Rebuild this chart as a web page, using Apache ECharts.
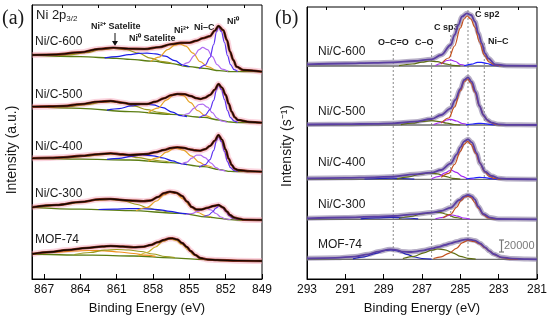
<!DOCTYPE html>
<html>
<head>
<meta charset="utf-8">
<script src="https://cdn.jsdelivr.net/npm/echarts@6/dist/echarts.min.js"></script>
<style>html,body{margin:0;padding:0;background:#fff}#c{width:550px;height:321px}</style>
</head>
<body>
<div id="c"></div>
<script>
// ---------- axis ticks ----------
const ticksA = [849, 852, 855, 858, 861, 864, 867];
const minorTicksA = [850.5, 853.5, 856.5, 859.5, 862.5, 865.5];
const ticksB = [281, 283, 285, 287, 289, 291, 293];
const minorTicksB = [282, 284, 286, 288, 290, 292];

// ---------- panel (a): Ni 2p3/2 ----------
const labelsA = ['Ni/C-600', 'Ni/C-500', 'Ni/C-400', 'Ni/C-300', 'MOF-74'];
const offsetsA = [207.3, 156.3, 107.3, 59, 18];

const a600_env = [[868,16.7],[866,17.2],[864,19.4],[862.5,22.7],[861.3,24],[860,23],[858.7,22.7],[857.5,24.5],[856.5,27.5],[855.7,28.8],[855,29],[854.4,31],[853.9,33.4],[853.3,35.5],[852.9,41],[852.6,45.7],[852.2,41.5],[851.9,31.7],[851.64,20],[851.37,11.7],[851.1,5],[850.55,1.7],[849,0]];
const a600_bg = [[868,16.7],[864,15],[861,13.4],[859.9,12.4],[858,10.5],[856.6,8.4],[855,5],[853.8,3.4],[852.5,1],[851.6,0],[849,0]];
const a600_ni2sat = [[866.5,16.2],[865,16.8],[863.5,19],[862.3,22],[861.2,23.2],[860.2,22],[859.2,18.5],[858.2,13.5],[857.2,10],[856.4,8.2]];
const a600_ni0sat = [[862,13.8],[861,15],[860,17],[859.2,18.3],[858.5,18.6],[857.8,17.8],[857,15.5],[856.2,11],[855.5,6.5],[855,5]];
const a600_ni2 = [[858.2,10.3],[857.5,14.5],[856.8,22],[856.2,26.5],[855.8,27.7],[855.3,25.5],[854.7,18.5],[854.1,10],[853.5,5],[853,2.5]];
const a600_nic = [[855.6,6],[855.1,9],[854.6,16],[854.2,22],[853.9,24.4],[853.5,22],[853.1,15],[852.7,7],[852.3,2.5],[851.8,0.5]];
const a600_ni0 = [[854.2,3],[853.7,6.5],[853.3,14],[853,27],[852.75,40],[852.6,44.5],[852.35,40],[852.1,29],[851.85,16],[851.6,7],[851.3,2],[851,0.3]];

const a500_env = [[868,16],[866.5,16.3],[865.4,16.7],[864,18.5],[862.5,21],[861.5,21.7],[860.5,20],[859.9,18.7],[858.5,18.7],[857.8,21],[857.1,24.4],[856.5,27.5],[856,28.7],[855.4,28.5],[854.9,26.7],[854.4,24.5],[854.1,23.7],[853.7,25],[853.3,27.7],[852.9,33],[852.6,38.7],[852.3,35],[852,27.7],[851.75,19],[851.5,11],[851.25,5.5],[851,2.7],[850,0.7],[849,0]];
const a500_bg = [[868,16],[864,14.4],[859.9,11],[856.5,8.4],[853.8,5.4],[852.5,2.5],[851.6,0.7],[851,0],[849,0]];
const a500_ni2sat = [[866.5,15.5],[865,16],[863.5,18],[862.3,20.3],[861.5,21],[860.5,19.5],[859.5,16.5],[858.5,13],[857.5,10.3],[856.6,8.6]];
const a500_ni0sat = [[861.8,12.5],[860.8,14],[859.8,16.8],[858.8,18.6],[858,17.8],[857.2,15],[856.4,10.5],[855.7,7],[855.2,6]];
const a500_ni2 = [[858.4,10],[857.6,14.5],[856.9,22.5],[856.3,27.5],[856,28.5],[855.5,27],[854.9,20],[854.3,12],[853.7,7],[853.2,5]];
const a500_nic = [[855.6,6.5],[855.1,9],[854.6,14.5],[854.2,18.2],[853.9,18.5],[853.5,15.5],[853.1,10],[852.7,4.5],[852.3,1.5],[851.9,0.5]];
const a500_ni0 = [[854.2,5],[853.7,7.5],[853.3,13],[853,22],[852.75,33],[852.6,37.5],[852.35,33],[852.1,23],[851.85,12],[851.6,5],[851.3,1.5],[851,0.2]];

const a400_env = [[868,13.4],[866.5,13.8],[865.4,14.4],[864,15.8],[862.5,17.5],[861.5,18.4],[860.5,17.3],[859.9,16.7],[858.5,17.7],[857.8,19.5],[857.1,21.7],[856.5,23.7],[856,24.4],[855.4,23.7],[855,22.4],[854.5,21.3],[854.1,21],[853.7,22.5],[853.3,25.7],[852.9,31],[852.6,36.7],[852.3,32],[852,22],[851.75,13],[851.5,6.7],[851.25,3],[851,1.7],[850,0.5],[849,0]];
const a400_bg = [[868,13.4],[864,12.6],[859.9,11.7],[856.5,9],[853.8,5],[852.5,2],[851.6,0.3],[851,0],[849,0]];
const a400_ni2sat = [[866.5,13.4],[865,14],[863.5,15.5],[862.5,16.8],[861.3,17.7],[860.2,16.3],[859.2,14],[858.2,12],[857.3,10.7],[856.6,9.3]];
const a400_ni0sat = [[861.8,12.3],[860.8,13.4],[859.8,15.3],[858.9,16.7],[858,15.8],[857.2,13.8],[856.4,10.8],[855.7,8],[855.2,7]];
const a400_ni2 = [[858.4,10.5],[857.6,13.8],[856.9,19.5],[856.3,23],[856.1,23.4],[855.5,21.5],[854.8,15.5],[854.2,9.5],[853.6,6],[853.1,4.5]];
const a400_nic = [[855.7,7.5],[855.2,9.5],[854.8,13.5],[854.4,16.5],[854.1,16.5],[853.7,14],[853.2,8.5],[852.8,4],[852.4,1.5],[852,0.4]];
const a400_ni0 = [[854.2,4.5],[853.7,7],[853.3,12],[853,21],[852.75,31],[852.6,35],[852.35,30],[852.1,20],[851.85,10],[851.6,4],[851.3,1],[851,0.2]];

const a300_env = [[868,12.7],[866,15],[864,18],[862.4,20.7],[861.5,21],[860,19.5],[858.8,18.8],[858.2,19.5],[857.6,23],[857.1,26.8],[856.6,28.3],[856.1,27.3],[855.6,24],[855.2,18.5],[854.8,13],[854.4,10.5],[854,10.5],[853.5,12.2],[853,14],[852.6,15],[852.2,12.5],[851.9,8.5],[851.64,5],[851.3,2.5],[851,1.5],[850.5,0.3],[849,0]];
const a300_bg = [[868,12.7],[864,10.8],[859.9,9.3],[855.8,6.7],[853.5,3],[852.5,1.7],[851.6,0.3],[851,0],[849,0]];
const a300_ni2sat = [[867,13],[865.5,15.3],[864,17.5],[862.8,19.8],[861.6,20.5],[860.4,19],[859.3,15.5],[858.4,12],[857.5,9.5],[856.8,8]];
const a300_ni0sat = [[862.5,10.5],[861.2,10.9],[860,11.3],[858.8,11.3],[857.6,10.4],[856.6,8.7],[855.6,6.7],[855,6]];
const a300_ni2 = [[859.4,9.3],[858.5,12.5],[857.7,19],[857.1,25],[856.6,27.5],[856.1,26.5],[855.5,21],[854.9,13.5],[854.3,7.5],[853.7,4.5],[853.2,3]];
const a300_nic = [[855.3,5.5],[854.8,6.5],[854.3,8.7],[853.9,11],[853.6,11.5],[853.2,10],[852.8,6.5],[852.4,3],[852,1],[851.6,0.3]];
const a300_ni0 = [[853.8,3.5],[853.4,5],[853.1,8],[852.8,12],[852.55,14],[852.3,12.5],[852,8.5],[851.7,4],[851.4,1.5],[851,0.2]];

const aMOF_env = [[868,7],[866.5,9],[865.1,11],[863.5,13],[862.2,14.5],[861.5,15],[860.5,14.5],[859.6,13.7],[858.8,14.3],[858.2,16],[857.6,18.8],[857.1,21],[856.7,22.5],[856.4,22.7],[856,21.5],[855.6,18],[855.2,14],[854.9,10],[854.5,6],[854.1,3],[853.5,1.5],[852.7,1],[851,0.3],[849,0]];
const aMOF_bg = [[868,7],[863,5.8],[859.6,5],[856.5,3.2],[854.1,1.7],[852,0.3],[849,0]];
const aMOF_sat1 = [[867.5,7.5],[866,8.8],[864.5,10],[863.3,10.5],[862,10.2],[860.8,9],[859.6,7.5],[858.6,5.8],[857.8,4.6]];
const aMOF_sat2 = [[864.5,6.5],[863.2,8.5],[862,10.8],[861,11.5],[860,11],[859,9.5],[858,7],[857,4.5],[856.2,3.3]];
const aMOF_main = [[859.2,5],[858.5,8.5],[857.8,14],[857.2,19.5],[856.6,22],[856.1,20.5],[855.6,16.5],[855.1,11],[854.6,5.5],[854,2.5],[853.3,1]];

// ---------- panel (b): C 1s ----------
const labelsB = ['Ni/C-600', 'Ni/C-500', 'Ni/C-400', 'Ni/C-300', 'MOF-74'];
const offsetsB = [213, 154, 99.7, 59.7, 19.7];

const b600_env = [[293,1.7],[291,2.5],[289.5,3.2],[288.5,3.7],[287.4,5],[286.5,6.7],[286,11],[285.5,21],[285.3,31],[285.1,41],[284.92,49.3],[284.65,52.7],[284.44,51],[284.23,44.3],[284.06,32.7],[283.88,22.7],[283.71,12.7],[283.54,7.7],[283.19,1.7],[282.6,0.3],[281,0]];
const b600_csp2 = [[286,2],[285.6,8],[285.3,20],[285,38],[284.8,47],[284.65,50],[284.45,47],[284.25,39],[284,24],[283.75,11],[283.5,4],[283.2,1],[282.9,0]];
const b600_co = [[288.2,0.3],[287.5,2],[287,3.8],[286.6,5],[286.2,4.3],[285.8,2.2],[285.4,0.7],[285,0]];
const b600_csp3 = [[286.3,0.5],[286,2.5],[285.7,5.5],[285.5,6],[285.25,4.5],[285,1.5],[284.7,0.2]];
const b600_nic = [[284.8,0.2],[284.4,1.8],[284.1,3.6],[283.9,3.7],[283.6,2.5],[283.3,0.8],[283,0.1]];

const b500_env = [[293,0.5],[291,0.8],[289.5,1.2],[288.5,1.7],[287.4,3.3],[286.5,6],[286,10],[285.5,16.7],[285.27,25],[285,36],[284.8,45],[284.6,47.7],[284.4,43],[284.2,33],[284,19],[283.8,10],[283.6,5],[283.36,2.3],[283,0.7],[282.5,0.2],[281,0]];
const b500_csp2 = [[286,2],[285.6,7],[285.3,18],[285,34],[284.8,43],[284.62,46],[284.45,42],[284.25,33],[284,19],[283.75,8.5],[283.5,3],[283.2,0.8],[282.9,0]];
const b500_co = [[288.1,0.3],[287.5,1.8],[287,3.6],[286.5,4.3],[286.1,3.5],[285.7,1.8],[285.3,0.5],[285,0]];
const b500_csp3 = [[286.4,0.5],[286,2.5],[285.7,5],[285.5,5.7],[285.2,4],[284.9,1.5],[284.6,0.2]];
const b500_nic = [[284.7,0.2],[284.35,1],[284.05,1.7],[283.8,1.5],[283.5,0.6],[283.2,0]];

const b400_env = [[293,1],[291,1.5],[289.5,2],[288.5,2.7],[287.4,5],[286.5,6.7],[286,9.3],[285.5,16],[285.18,25],[285,32],[284.8,38],[284.6,40],[284.4,37],[284.14,26],[283.97,16],[283.71,7.7],[283.36,3.3],[283,1],[282.5,0.3],[281,0]];
const b400_csp2 = [[286,2],[285.6,6],[285.3,15],[285,28],[284.8,35],[284.62,38],[284.45,35],[284.2,26],[284,17],[283.75,8],[283.5,3],[283.2,0.8],[282.9,0]];
const b400_co = [[288.3,0.5],[287.7,2.5],[287.1,5],[286.65,6.5],[286.2,5.5],[285.8,3],[285.4,1],[285,0.2]];
const b400_csp3 = [[286.5,0.5],[286.1,3],[285.8,6.5],[285.5,9.3],[285.2,7],[284.9,3],[284.6,0.8],[284.3,0]];
const b400_nic = [[284.7,0.3],[284.3,1.3],[284,2],[283.7,1.6],[283.4,0.6],[283.1,0]];
const b400_ococ = [[290,0.3],[289.2,0.8],[288.6,1.2],[288,0.8],[287.4,0.2]];

const b300_env = [[293,1],[291,1.8],[289.5,2.7],[288.5,3.3],[287.4,5],[286.5,6.7],[286,8.3],[285.5,11.7],[285.05,19.3],[284.8,23],[284.6,24.3],[284.4,23],[284.25,20],[284.06,12.7],[283.8,5.3],[283.45,1.7],[283,0.3],[281,0]];
const b300_csp2 = [[285.9,1.5],[285.5,5],[285.2,12],[284.95,19],[284.75,22.5],[284.6,23],[284.45,22],[284.25,17],[284.05,11],[283.8,4.5],[283.55,1.5],[283.2,0.2]];
const b300_co = [[288.2,0.8],[287.6,2.8],[287,5.3],[286.4,6.8],[286.1,7],[285.7,5],[285.3,2],[284.9,0.5]];
const b300_csp3 = [[286.3,0.5],[285.9,2],[285.6,3.8],[285.4,4.3],[285.15,3.2],[284.85,1.3],[284.5,0.2]];
const b300_ococ = [[290.2,0.5],[289.4,1.5],[288.6,2],[287.9,1.3],[287.2,0.4]];

const bMOF_env = [[293,1],[291.5,1.5],[290.5,2.7],[289.8,5],[289.27,7.7],[288.66,10],[288.3,9.2],[288.05,7.7],[287.6,7.3],[287.36,7.7],[286.9,9],[286.5,10.7],[286.1,12.5],[285.8,14.3],[285.5,16],[285.18,17.7],[284.9,19.2],[284.6,20],[284.23,18.7],[283.97,16],[283.71,12],[283.5,8.5],[283.27,5.3],[282.84,2],[282.3,0.7],[281.5,0.2],[281,0]];
const bMOF_ococ = [[290.6,0.5],[290,2.5],[289.4,6],[288.9,9],[288.6,9.5],[288.2,8],[287.8,5],[287.4,2.3],[287,0.8],[286.5,0.2]];
const bMOF_co = [[288,0.8],[287.4,3],[286.9,6.5],[286.5,9.2],[286.2,10.3],[285.8,9.5],[285.4,6.5],[285,3],[284.6,1],[284.2,0.2]];
const bMOF_csp2 = [[286.4,0.8],[286,2.5],[285.6,6],[285.2,11],[284.9,16.5],[284.6,19],[284.3,18],[284,15.5],[283.7,11.5],[283.45,8],[283.2,4.5],[282.9,2],[282.5,0.5],[282,0]];

const bBackground = [[293,0],[281,0]];
// dotted guide lines: [energy, top, bottom] in intensity units of panel (b)
const guidesB = [[288.5,229,21],[286.5,232,21],[285.5,244,62],[284.6,269,23],[283.75,236,101]];

// ---------- colours ----------
const C = {
  bgA:'#5b7d12', ni2sat:'#9d9a1e', ni0sat:'#1d1de6', ni2:'#e6a428', nic:'#b26ef2', ni0:'#5e34f2',
  sat1:'#f0901c', sat2:'#9a9a1c', main:'#cdb02c',
  envA:'#160800', envMid:'#8c3322', halo:'rgba(244,150,175,0.40)',
  envB:'#5b3fa2', haloB:'rgba(135,122,160,0.6)', bgB:'#6e6e6e',
  csp2:'#c3501c', co:'#5f6e12', csp3:'#a32cf2', nicB:'#2222ff', ococ:'#2525b8'
};

const series = [];
function line(gi, pts, off, color, width, z, extra) {
  series.push(Object.assign({
    type:'line', xAxisIndex: gi*2, yAxisIndex: gi,
    data: pts.map(p => [p[0], p[1] + off]),
    symbol:'none', smooth:0.35, smoothMonotone:'x', silent:true, animation:false,
    lineStyle:{color:color, width:width}, z:z
  }, extra || {}));
}

const specA = [
  {env:a600_env, bg:a600_bg, comps:[[a600_ni2sat,C.ni2sat],[a600_ni0sat,C.ni0sat],[a600_ni2,C.ni2],[a600_nic,C.nic],[a600_ni0,C.ni0]]},
  {env:a500_env, bg:a500_bg, comps:[[a500_ni2sat,C.ni2sat],[a500_ni0sat,C.ni0sat],[a500_ni2,C.ni2],[a500_nic,C.nic],[a500_ni0,C.ni0]]},
  {env:a400_env, bg:a400_bg, comps:[[a400_ni2sat,C.ni2sat],[a400_ni0sat,C.ni0sat],[a400_ni2,C.ni2],[a400_nic,C.nic],[a400_ni0,C.ni0]]},
  {env:a300_env, bg:a300_bg, comps:[[a300_ni2sat,C.ni2sat],[a300_ni0sat,C.ni0sat],[a300_ni2,C.ni2],[a300_nic,C.nic],[a300_ni0,C.ni0]]},
  {env:aMOF_env, bg:aMOF_bg, comps:[[aMOF_sat1,C.sat1],[aMOF_sat2,C.sat2],[aMOF_main,C.main]]}
];
specA.forEach((s, i) => {
  const off = offsetsA[i];
  line(0, s.env, off, C.halo, 6, 1);
  line(0, s.bg, off, C.bgA, 1.3, 2);
  s.comps.forEach(c => line(0, c[0], off, c[1], 1.2, 3));
  line(0, s.env, off, C.envMid, 2.6, 4);
  line(0, s.env, off, C.envA, 1.3, 5);
});

const specB = [
  {env:b600_env, comps:[[b600_co,C.co],[b600_csp3,C.csp3],[b600_nic,C.nicB],[b600_csp2,C.csp2]]},
  {env:b500_env, comps:[[b500_co,C.co],[b500_csp3,C.csp3],[b500_nic,C.nicB],[b500_csp2,C.csp2]]},
  {env:b400_env, comps:[[b400_ococ,C.ococ],[b400_co,C.co],[b400_csp3,C.csp3],[b400_nic,C.nicB],[b400_csp2,C.csp2]]},
  {env:b300_env, comps:[[b300_ococ,C.ococ],[b300_co,C.co],[b300_csp3,C.csp3],[b300_csp2,C.csp2]]},
  {env:bMOF_env, comps:[[bMOF_ococ,C.ococ],[bMOF_co,C.co],[bMOF_csp2,C.csp2]]}
];
specB.forEach((s, i) => {
  const off = offsetsB[i];
  line(1, bBackground, off, C.bgB, 1.3, 2, {smooth:false});
  line(1, s.env, off, C.haloB, 5, 1);
  s.comps.forEach(c => line(1, c[0], off, c[1], 1.2, 3));
  line(1, s.env, off, C.envB, 1.8, 5);
});
guidesB.forEach(g => {
  series.push({type:'line', xAxisIndex:2, yAxisIndex:1, data:[[g[0],g[1]],[g[0],g[2]]],
    symbol:'none', silent:true, animation:false, z:0,
    lineStyle:{color:'#8a8a8a', width:1, type:[2,2]}});
});

const FONT = '"Liberation Sans", Arial, sans-serif';
function xAxes(gi, min, max, ticks, minor) {
  return [
    {gridIndex:gi, type:'value', inverse:true, min:min, max:max,
     axisLine:{show:true, lineStyle:{color:'#000', width:1}},
     axisTick:{show:true, inside:true, length:5, customValues:ticks, lineStyle:{color:'#000'}},
     axisLabel:{show:true, customValues:ticks, fontSize:12, color:'#111', margin:5, fontFamily:FONT},
     splitLine:{show:false},
     name:'Binding Energy (eV)', nameLocation:'middle', nameGap:23,
     nameTextStyle:{fontSize:13, color:'#111', fontFamily:FONT}},
    {gridIndex:gi, type:'value', inverse:true, min:min, max:max,
     axisLine:{show:false},
     axisTick:{show:true, inside:true, length:3, customValues:minor, lineStyle:{color:'#000'}},
     axisLabel:{show:false}, splitLine:{show:false}}
  ];
}
function yAxis(gi, max) {
  return {gridIndex:gi, type:'value', min:0, max:max,
    axisLine:{show:true, lineStyle:{color:'#000'}}, axisTick:{show:false},
    axisLabel:{show:false}, splitLine:{show:false}};
}

function txt(x, y, text, font, extra) {
  return Object.assign({type:'text', x:x, y:y, silent:true,
    style:{text:text, font:font, fill:'#1a1a1a', verticalAlign:'middle', align:'left'}}, extra || {});
}
const labFont = '12px ' + FONT;
const annFont = 'bold 9px ' + FONT;
const graphic = [
  txt(2, 19, '(a)', '20px "Liberation Serif", serif'),
  txt(275, 19, '(b)', '20px "Liberation Serif", serif'),
  {type:'text', x:12, y:150, rotation:Math.PI/2, silent:true,
   style:{text:'Intensity (a.u.)', font:'14px ' + FONT, fill:'#1a1a1a', align:'center', verticalAlign:'middle'}},
  {type:'text', x:287, y:146, rotation:Math.PI/2, silent:true,
   style:{text:'Intensity (s⁻¹)', font:'14px ' + FONT, fill:'#1a1a1a', align:'center', verticalAlign:'middle'}},
  {type:'text', x:36, y:15, silent:true,
   style:{text:'{m|Ni 2p}{s|3/2}', fill:'#1a1a1a', verticalAlign:'middle',
     rich:{m:{font:'13px ' + FONT, fill:'#1a1a1a', lineHeight:16, verticalAlign:'middle'},
           s:{font:'8px ' + FONT, fill:'#1a1a1a', lineHeight:16, verticalAlign:'bottom', padding:[6,0,0,0]}}}},
  txt(91, 27, 'Ni²⁺ Satelite', annFont),
  txt(129, 39, 'Ni⁰ Satelite', annFont),
  txt(174, 31, 'Ni²⁺', annFont),
  txt(194, 28, 'Ni–C', annFont),
  txt(227, 22, 'Ni⁰', annFont),
  {type:'line', silent:true, shape:{x1:115, y1:33, x2:115, y2:42}, style:{stroke:'#111', lineWidth:1}},
  {type:'polygon', silent:true, shape:{points:[[112,41],[118,41],[115,46]]}, style:{fill:'#111'}},
  txt(378, 43, 'O–C=O', annFont),
  txt(415, 43, 'C–O', annFont),
  txt(434, 28, 'C sp3', annFont),
  txt(475, 15, 'C sp2', annFont),
  txt(488, 42, 'Ni–C', annFont),
  {type:'line', silent:true, shape:{x1:501.5, y1:240, x2:501.5, y2:252}, style:{stroke:'#777', lineWidth:1.2}},
  {type:'line', silent:true, shape:{x1:499, y1:240, x2:504, y2:240}, style:{stroke:'#777', lineWidth:1.2}},
  {type:'line', silent:true, shape:{x1:499, y1:252, x2:504, y2:252}, style:{stroke:'#777', lineWidth:1.2}},
  txt(504, 246, '20000', '11px ' + FONT, {style:{text:'20000', font:'11px ' + FONT, fill:'#7a7a7a', verticalAlign:'middle', align:'left'}})
];
labelsA.forEach((l, i) => graphic.push(txt(35, [42, 95, 147, 194, 240][i], l, labFont)));
labelsB.forEach((l, i) => graphic.push(txt(318, [52, 112, 163, 205, 245][i], l, labFont)));

const chart = echarts.init(document.getElementById('c'), null, {renderer:'canvas'});
chart.setOption({
  animation:false,
  backgroundColor:'#fff',
  grid:[
    {left:32, right:288, top:5, bottom:42, show:true, borderColor:'#000', borderWidth:1},
    {left:307, right:13, top:7, bottom:42, show:true, borderColor:'#000', borderWidth:1}
  ],
  xAxis:[].concat(xAxes(0, 849, 868, ticksA, minorTicksA), xAxes(1, 281, 293, ticksB, minorTicksB)),
  yAxis:[yAxis(0, 274), yAxis(1, 272)],
  series:series,
  graphic:graphic
});
</script>
</body>
</html>
